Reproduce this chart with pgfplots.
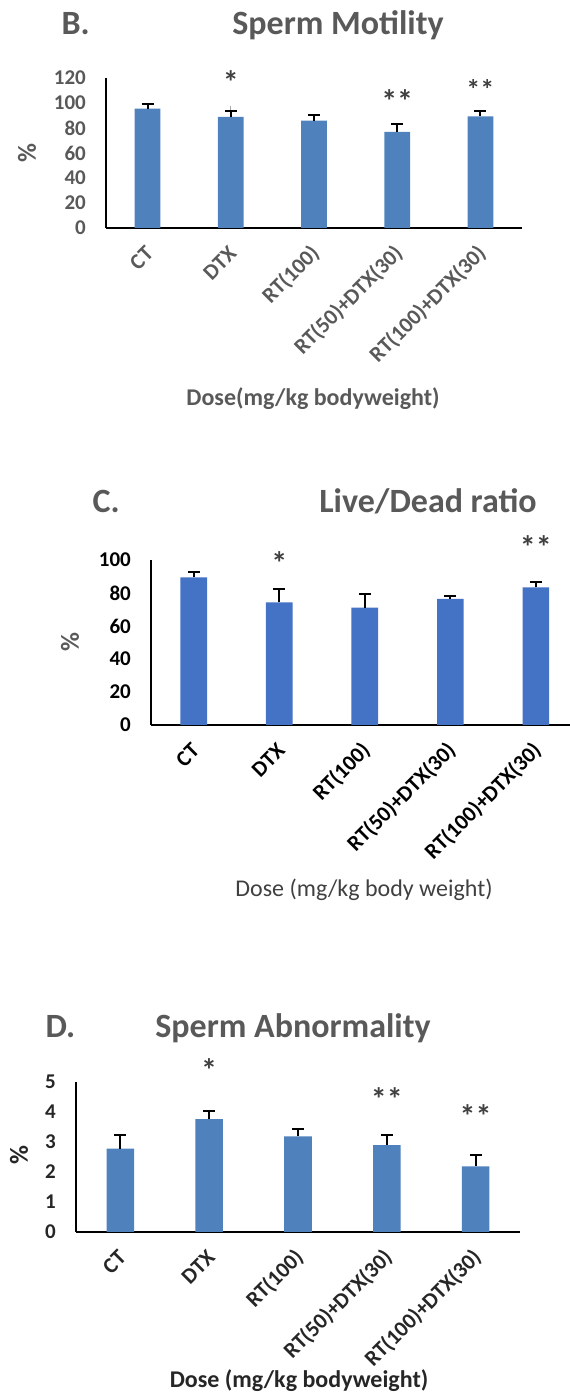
\documentclass[border=0pt]{standalone}
\usepackage{pgfplots}
\pgfplotsset{compat=1.18}
\usepackage{fontspec}
\setmainfont{Carlito}
\definecolor{barB}{HTML}{4F81BD}
\definecolor{barC}{HTML}{4472C4}
\definecolor{txtgray}{HTML}{595959}
\definecolor{txtdark}{HTML}{262626}
\definecolor{stargray}{HTML}{404040}
\newcommand{\fs}[1]{\fontsize{#1}{#1}\selectfont}

\pgfplotsset{
  common/.style={
    scale only axis,
    anchor=south west,
    xmin=-0.5, xmax=4.5,
    ymin=0,
    xtick={0,1,2,3,4},
    xticklabels={CT,DTX,RT(100),RT(50)+DTX(30),RT(100)+DTX(30)},
    major tick length=0pt,
    axis x line*=bottom,
    axis y line*=left,
    axis line style={black, line width=1.5bp},
    clip=false,
    /pgf/number format/assume math mode=true,
    xticklabel style={xshift=2bp, yshift=-22bp, rotate=45, anchor=east, inner sep=0pt},
    yticklabel style={xshift=-20bp, inner sep=0pt, anchor=east},
  },
  bars/.style={
    ybar, bar width=0.31, draw=none, fill=#1,
    error bars/.cd, y dir=plus, y explicit,
    error bar style={black, line width=2bp},
    error mark options={black, rotate=90, mark size=6bp, line width=2bp},
  },
}

\begin{document}
\begin{tikzpicture}
\useasboundingbox (0bp,0bp) rectangle (570bp,1393bp);
\clip (0bp,0bp) rectangle (570bp,1393bp);
\coordinate (pB) at (106bp,1165bp);
\coordinate (pC) at (151bp,668bp);
\coordinate (pD) at (76bp,161bp);

% ---------------- Panel B ----------------
\node[anchor=base west, font=\bfseries\fs{34bp}, text=txtgray] at (58bp,1358bp) {B.};
\node[anchor=base, font=\bfseries\fs{34bp}, text=txtgray] at (338bp,1358bp) {Sperm Motility};
\node[rotate=90, font=\bfseries\fs{26bp}, text=txtgray] at (27bp,1240bp) {\%};
\node[anchor=base, font=\bfseries\fs{24bp}, text=txtgray] at (313bp,987bp) {Dose(mg/kg bodyweight)};
\begin{axis}[common, at={(pB)}, width=416bp, height=150bp,
  ymax=120, ytick={0,20,...,120},
  yticklabel style={font=\bfseries\fs{21bp}, text=txtgray},
  xticklabel style={font=\bfseries\fs{22bp}, text=txtgray}]
\addplot[ybar, bar width=0.31, draw=none, fill=none,
  error bars/.cd, y dir=plus, y explicit,
  error bar style={gray!70, line width=0.8bp}, error mark=none]
  coordinates {(1,88.8) +- (0,8.8)};
\addplot[bars=barB] coordinates {
  (0,95.5) +- (0,3.7)
  (1,88.8) +- (0,4.5)
  (2,85.9) +- (0,4.8)
  (3,76.8) +- (0,6.7)
  (4,89.3) +- (0,4.0)
};
\node[font=\bfseries\fs{32bp}, text=stargray] at (axis cs:1,116.5) {*};
\node[font=\bfseries\fs{32bp}, text=stargray] at (axis cs:3,101.5) {**};
\node[font=\bfseries\fs{28bp}, text=stargray] at (axis cs:4,111) {**};
\end{axis}

% ---------------- Panel C ----------------
\node[anchor=base west, font=\bfseries\fs{34bp}, text=txtgray] at (89bp,880bp) {C.};
\node[anchor=base, font=\bfseries\fs{34bp}, text=txtgray] at (428bp,880bp) {Live/Dead ratio};
\node[rotate=90, font=\bfseries\fs{26bp}, text=txtgray] at (70bp,751bp) {\%};
\node[anchor=base, font=\fs{24bp}, text=stargray] at (364bp,496bp) {Dose (mg/kg body weight)};
\begin{axis}[common, at={(pC)}, width=427.5bp, height=165bp,
  ymax=100, ytick={0,20,...,100},
  yticklabel style={font=\bfseries\fs{21bp}, text=black},
  xticklabel style={font=\bfseries\fs{22bp}, text=black}]
\addplot[bars=barC] coordinates {
  (0,89.5) +- (0,3.0)
  (1,74.3) +- (0,7.9)
  (2,71.1) +- (0,8.1)
  (3,76.4) +- (0,1.6)
  (4,83.4) +- (0,3.3)
};
\node[font=\bfseries\fs{32bp}, text=stargray] at (axis cs:1,98) {*};
\node[font=\bfseries\fs{32bp}, text=stargray] at (axis cs:4,108) {**};
\end{axis}

% ---------------- Panel D ----------------
\node[anchor=base west, font=\bfseries\fs{34bp}, text=txtgray] at (42bp,355bp) {D.};
\node[anchor=base, font=\bfseries\fs{34bp}, text=txtgray] at (293bp,355bp) {Sperm Abnormality};
\node[rotate=90, font=\bfseries\fs{26bp}, text=txtdark] at (19bp,238bp) {\%};
\node[anchor=base, font=\bfseries\fs{24bp}, text=txtdark] at (299bp,6bp) {Dose (mg/kg bodyweight)};
\begin{axis}[common, at={(pD)}, width=444bp, height=150bp,
  ymax=5, ytick={0,1,...,5},
  yticklabel style={font=\bfseries\fs{21bp}, text=txtdark},
  xticklabel style={font=\bfseries\fs{22bp}, text=txtdark}]
\addplot[bars=barB] coordinates {
  (0,2.78) +- (0,0.44)
  (1,3.76) +- (0,0.27)
  (2,3.19) +- (0,0.24)
  (3,2.90) +- (0,0.32)
  (4,2.19) +- (0,0.37)
};
\node[font=\bfseries\fs{32bp}, text=stargray] at (axis cs:1,5.4) {*};
\node[font=\bfseries\fs{32bp}, text=stargray] at (axis cs:3,4.43) {**};
\node[font=\bfseries\fs{32bp}, text=stargray] at (axis cs:4,3.88) {**};
\end{axis}
\end{tikzpicture}
\end{document}
